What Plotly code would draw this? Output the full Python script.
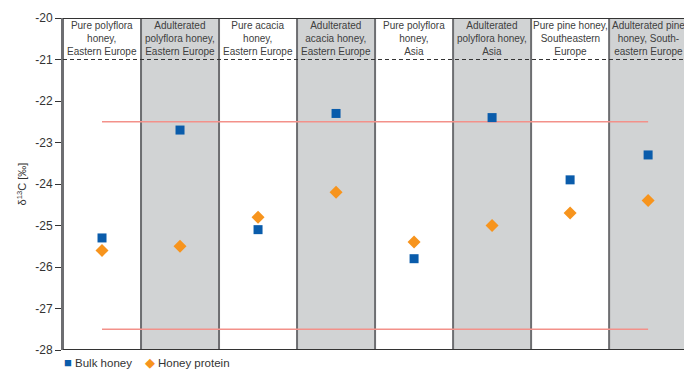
import plotly.graph_objects as go

# Sample groups (column headers)
groups = [
    "Pure polyflora<br>honey,<br>Eastern Europe",
    "Adulterated<br>polyflora honey,<br>Eastern Europe",
    "Pure acacia<br>honey,<br>Eastern Europe",
    "Adulterated<br>acacia honey,<br>Eastern Europe",
    "Pure polyflora<br>honey,<br>Asia",
    "Adulterated<br>polyflora honey,<br>Asia",
    "Pure pine honey,<br>Southeastern<br>Europe",
    "Adulterated pine<br>honey, South-<br>eastern Europe",
]

# δ13C values (‰)
bulk_honey = [-25.3, -22.7, -25.1, -22.3, -25.8, -22.4, -23.9, -23.3]
honey_protein = [-25.6, -25.5, -24.8, -24.2, -25.4, -25.0, -24.7, -24.4]

# Acceptance limits
limits = [-22.5, -27.5]

y_ticks = [-20, -21, -22, -23, -24, -25, -26, -27, -28]

BLUE = "#0a5cab"
ORANGE = "#f7941d"

centers = [i + 0.5 for i in range(len(groups))]

fig = go.Figure()
fig.add_trace(go.Scatter(
    x=centers, y=bulk_honey, mode="markers", name="Bulk honey",
    marker=dict(symbol="square", size=9, color=BLUE),
))
fig.add_trace(go.Scatter(
    x=centers, y=honey_protein, mode="markers", name="Honey protein",
    marker=dict(symbol="diamond", size=10, color=ORANGE),
))

shapes = []
# shaded columns for adulterated samples
for i in range(len(groups)):
    if i % 2 == 1:
        shapes.append(dict(type="rect", xref="x", yref="y", x0=i, x1=i + 1,
                           y0=-28, y1=-20, fillcolor="#d1d3d4",
                           line=dict(width=0), layer="below"))
# column separators
for i in range(len(groups) + 1):
    shapes.append(dict(type="line", xref="x", yref="y", x0=i, x1=i,
                       y0=-28, y1=-20, line=dict(color="#6d6e71", width=2),
                       layer="below"))
# header frame
shapes.append(dict(type="line", xref="x", yref="y", x0=0, x1=8,
                   y0=-20, y1=-20, line=dict(color="#333333", width=2)))
shapes.append(dict(type="line", xref="x", yref="y", x0=0, x1=8,
                   y0=-21, y1=-21, line=dict(color="#333333", width=1, dash="4px,3px")))
shapes.append(dict(type="line", xref="x", yref="y", x0=0, x1=8,
                   y0=-28, y1=-28, line=dict(color="#333333", width=2)))
# limit lines
for lim in limits:
    shapes.append(dict(type="line", xref="x", yref="y", x0=0.5, x1=7.5,
                       y0=lim, y1=lim, line=dict(color="#f3918a", width=1.6),
                       layer="below"))

annotations = [
    dict(x=c, y=-20.5, xref="x", yref="y", text=g, showarrow=False,
         font=dict(size=10, color="#404040"), align="center")
    for c, g in zip(centers, groups)
]

# legend row beneath the plot
annotations.append(dict(
    x=-0.002, y=-0.039, xref="paper", yref="paper", xanchor="left", yanchor="middle",
    showarrow=False, align="left",
    text=(f'<span style="color:{BLUE};font-size:13px">■</span> Bulk honey'
          f'&nbsp;&nbsp;&nbsp;&nbsp;<span style="color:{ORANGE};font-size:13px">◆</span> Honey protein'),
    font=dict(size=11.5, color="#333333"),
))

fig.update_layout(
    width=684, height=369,
    margin=dict(l=63, r=0, t=18, b=19, autoexpand=False),
    paper_bgcolor="white", plot_bgcolor="white",
    font=dict(family="Arial", size=11, color="#333333"),
    shapes=shapes,
    annotations=annotations,
    showlegend=False,
    xaxis=dict(range=[0, 7.96], showgrid=False, zeroline=False,
               showticklabels=False, ticks="", showline=False, fixedrange=True),
    yaxis=dict(range=[-28, -20], tickvals=y_ticks,
               ticktext=[str(v) for v in y_ticks],
               showgrid=False, zeroline=False, showline=True,
               linecolor="#6d6e71", linewidth=2,
               ticks="outside", ticklen=6, tickcolor="#333333",
               tickfont=dict(size=12, color="#333333"),
               title=dict(text="δ<sup>13</sup>C [‰]", standoff=6,
                          font=dict(size=11, color="#333333"))),
)

fig.write_html("out.html")
